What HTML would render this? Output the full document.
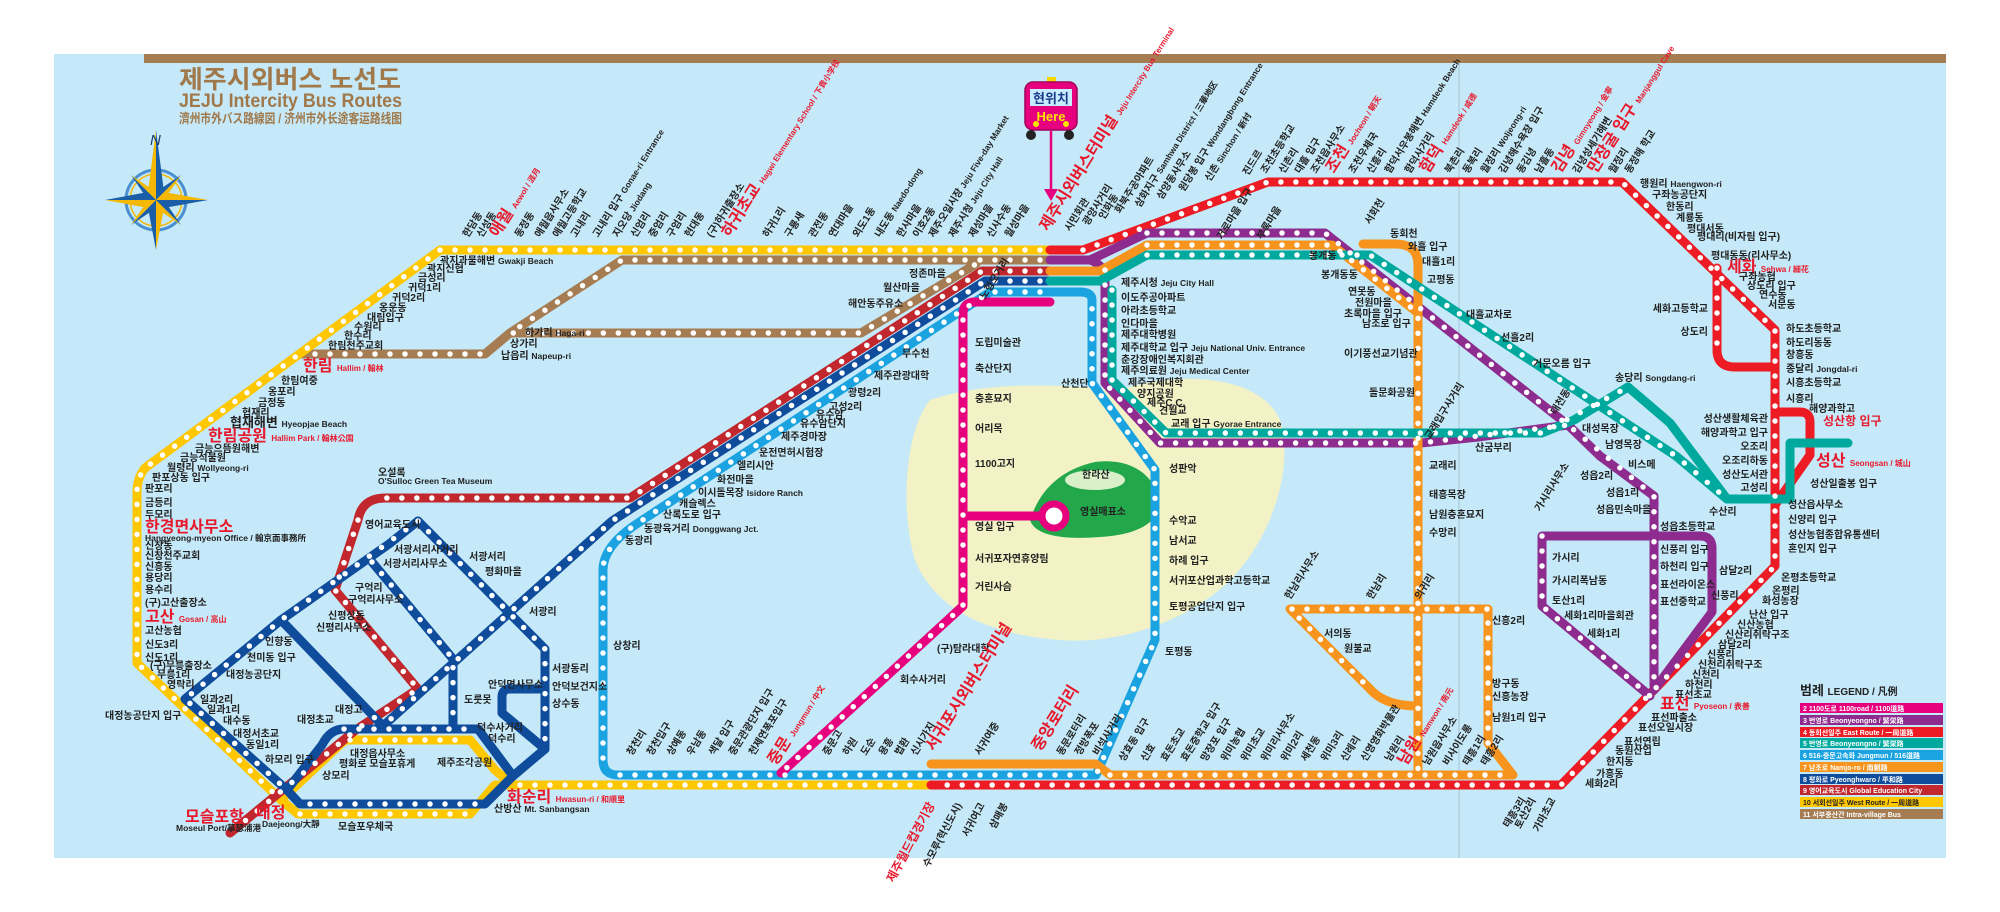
<!DOCTYPE html>
<html><head><meta charset="utf-8">
<style>
html,body{margin:0;padding:0;background:#fff;}
svg{display:block;}
text{font-family:"Liberation Sans","Noto Sans CJK KR",sans-serif;}
.l{font-size:10px;fill:#222;font-weight:bold;}
.s{font-size:8.5px;fill:#222;font-weight:bold;}
.r{font-size:16px;fill:#e8192c;font-weight:bold;}
.rs{font-size:12px;fill:#e8192c;font-weight:bold;}
.ln{fill:none;stroke-width:9;stroke-linejoin:round;stroke-linecap:round;}
.dt{fill:none;stroke:#fff;stroke-width:5.5;stroke-linecap:round;stroke-dasharray:0 15;}
</style></head><body>
<svg width="2000" height="912" viewBox="0 0 2000 912" xmlns="http://www.w3.org/2000/svg">
<rect x="0" y="0" width="2000" height="912" fill="#fff"/>
<rect x="54" y="54" width="1892" height="804" fill="#c5e9f8"/>
<rect x="144" y="54" width="1802" height="9" fill="#a67c52"/>
<line x1="1459" y1="63" x2="1459" y2="858" stroke="#a8c4d4" stroke-width="1"/>

<!-- Title -->
<text x="179" y="88" font-size="25" font-weight="bold" fill="#a0784a" textLength="222" lengthAdjust="spacingAndGlyphs">제주시외버스 노선도</text>
<text x="179" y="107" font-size="19" font-weight="bold" fill="#a0784a" textLength="223" lengthAdjust="spacingAndGlyphs">JEJU Intercity Bus Routes</text>
<text x="179" y="123" font-size="13" font-weight="bold" fill="#a0784a" textLength="223" lengthAdjust="spacingAndGlyphs">濟州市外バス路線図 / 济州市外长途客运路线图</text>

<!-- Compass -->
<g>
<circle cx="156" cy="200" r="30" fill="none" stroke="#4a8fd0" stroke-width="3"/>
<circle cx="156" cy="200" r="26" fill="none" stroke="#f5b800" stroke-width="1.5"/>
<polygon points="156,200 181,175 164,200" fill="#f5b800"/><polygon points="156,200 181,175 156,192" fill="#1a5ea8"/>
<polygon points="156,200 131,175 148,200" fill="#1a5ea8"/><polygon points="156,200 131,175 156,192" fill="#f5b800"/>
<polygon points="156,200 181,225 156,208" fill="#f5b800"/><polygon points="156,200 181,225 164,200" fill="#1a5ea8"/>
<polygon points="156,200 131,225 156,208" fill="#1a5ea8"/><polygon points="156,200 131,225 148,200" fill="#f5b800"/>
<polygon points="156,130 148,192 156,200" fill="#f5b800"/><polygon points="156,130 164,192 156,200" fill="#1a5ea8"/>
<polygon points="156,250 148,208 156,200" fill="#1a5ea8"/><polygon points="156,250 164,208 156,200" fill="#f5b800"/>
<polygon points="208,200 164,192 156,200" fill="#f5b800"/><polygon points="208,200 164,208 156,200" fill="#1a5ea8"/>
<polygon points="105,200 148,192 156,200" fill="#1a5ea8"/><polygon points="105,200 148,208 156,200" fill="#f5b800"/>
<text x="150" y="145" font-size="15" font-style="italic" font-family="Liberation Serif,serif" fill="#1a3a6a">N</text>
</g>

<!-- Island -->
<path d="M930,400 C990,380 1060,385 1120,390 C1180,370 1260,375 1280,420 C1295,470 1270,540 1230,580 C1190,620 1120,645 1060,640 C990,635 935,610 915,560 C900,510 905,430 930,400 Z" fill="#f2f2c6"/>
<path d="M1030,520 C1040,490 1060,470 1095,462 C1125,458 1150,470 1158,495 C1165,520 1140,535 1100,537 C1060,540 1035,535 1030,520 Z" fill="#22a84a"/>
<ellipse cx="1095" cy="480" rx="30" ry="10" fill="#d8efc8"/>
<text x="1082" y="478" class="l">한라산</text>
<text x="1080" y="515" class="l">영실매표소</text>

<!-- Lines -->
<g class="ln">
<path stroke="#a67c52" d="M1050,260 H622 L510,333 L485,354 H300"/>
<path stroke="#a67c52" d="M510,333 H861 L976,264"/>
<path stroke="#ffc700" d="M1050,250 H440 L145,468 Q137,478 137,492 V663 L281,800 L298,814 H470 L495,785 H931"/>
<path stroke="#ffc700" d="M281,800 L345,740 H470 L495,770 L513,785"/>
<path stroke="#c1272d" d="M1050,271 H982 L630,498 H385 Q362,498 358,520 L335,590 L418,689 L357,729 L230,833"/>
<path stroke="#0f4c9c" d="M1050,281 H985 L612,521 L383,726"/>
<path stroke="#0f4c9c" d="M287,790 L300,804 H485 L513,776 L478,729 H344 Q330,729 322,745 L287,790"/>
<path stroke="#0f4c9c" d="M418,521 L545,649 V749 L513,776"/>
<path stroke="#0f4c9c" d="M418,521 L389,544 L281,620 L185,699 L287,790"/>
<path stroke="#0f4c9c" d="M281,620 L383,726"/>
<path stroke="#0f4c9c" d="M372,562 L453,659 V729"/>
<path stroke="#0f4c9c" d="M545,689 H510 Q502,689 502,697 V713 L545,749"/>
<path stroke="#1aa3e0" d="M1050,292 H990 L638,523 Q603,546 603,570 V760 Q603,775 618,775 H1096 L1155,640 V470 L1092,383 V300 Q1092,292 1080,292 H1050"/>
<path stroke="#e6007e" d="M1050,302 H975 Q963,302 963,314 V606 L781,773"/>
<path stroke="#e6007e" d="M963,516 H1042"/>
<path stroke="#ed1c24" d="M1050,250 H1083 L1268,182 H1622 L1775,330 V566 L1561,785 H931"/>
<path stroke="#ed1c24" d="M1717,268 V350 Q1717,367 1735,367 H1775"/>
<path stroke="#ed1c24" d="M1775,412 H1800 Q1810,412 1810,422 V455 L1775,505"/>
<path stroke="#8e2b8e" d="M1050,260 H1090 L1147,233 H1325 L1568,425 L1600,456 L1654,496 V686"/>
<path stroke="#8e2b8e" d="M1090,260 Q1105,265 1105,280 V383 L1160,443 H1421 L1478,437 L1568,425"/>
<path stroke="#8e2b8e" d="M1542,536 H1700 Q1712,536 1712,548 V612 L1654,690 M1542,536 V606 L1650,696"/>
<path stroke="#f7941d" d="M1050,271 H1100 L1147,245 H1332 L1418,313 V775"/>
<path stroke="#f7941d" d="M1363,244 H1395 Q1418,244 1418,265 V313"/>
<path stroke="#f7941d" d="M931,764 H1096 L1110,775 H1513 L1488,743 V609 H1290 L1370,689 Q1385,706 1418,706"/>
<path stroke="#00a99d" d="M1050,281 H1100 L1147,255 H1370 L1676,456 L1727,499 H1790 V443 H1848"/>
<path stroke="#00a99d" d="M1112,290 V380 L1166,433 H1542 L1574,420 L1628,387 L1670,423 L1727,499"/>
</g>
<circle cx="1054" cy="516" r="12" fill="#fff" stroke="#e6007e" stroke-width="7"/>

<!-- station dots -->
<g class="dt">
<path d="M1040,250 H440 L145,468 Q137,478 137,492 V663 L281,800 M300,814 H470 M350,740 H470 M520,785 H925"/>
<path d="M1040,260 H622 L510,333 H861 L976,264 M480,354 H310"/>
<path d="M1040,271 H982 L630,498 H385 M358,520 L335,590 L418,689 L357,729 L240,825"/>
<path d="M1040,281 H985 L612,521 L383,726 M418,521 L281,620 L185,699 L287,790 M418,521 L545,649 V749 M372,562 L453,659 V720 M310,804 H485 M344,729 H478"/>
<path d="M1040,292 H990 L638,523 Q603,546 603,570 V760 M620,775 H1096 L1155,640 V470 L1092,383 V300"/>
<path d="M963,320 V606 L781,773"/>
<path d="M1083,250 L1268,182 H1622 L1775,330 V566 L1561,785 H940 M1717,268 V350"/>
<path d="M1105,270 V383 L1160,443 H1421 L1568,425 M1147,233 H1325 L1568,425 L1654,496 V686 M1542,536 V606 L1650,696"/>
<path d="M1147,245 H1332 L1418,313 V770 M1110,775 H1513 M1488,743 V609 H1290 L1370,689"/>
<path d="M1147,255 H1370 L1676,456 L1727,499 M1112,290 V380 L1166,433 H1542 L1628,387"/>
</g>

<!-- Here sign -->
<rect x="1047" y="77" width="9" height="6" fill="#f5d800"/>
<rect x="1025" y="82" width="52" height="48" rx="8" fill="#e6007e" stroke="#a0005a" stroke-width="1.5"/>
<rect x="1030" y="89" width="42" height="17" fill="#c8ecff"/>
<text x="1051" y="103" font-size="13" font-weight="bold" text-anchor="middle" fill="#1a3a8a">현위치</text>
<text x="1051" y="121" font-size="13" font-weight="bold" text-anchor="middle" fill="#ffe600">Here</text>
<circle cx="1036" cy="124" r="3" fill="#ffe600"/><circle cx="1066" cy="124" r="3" fill="#ffe600"/>
<circle cx="1031" cy="135" r="5" fill="#222"/><circle cx="1069" cy="135" r="5" fill="#222"/>
<line x1="1051" y1="131" x2="1051" y2="190" stroke="#e6007e" stroke-width="2.5"/>
<polygon points="1044,189 1058,189 1051,201" fill="#e6007e"/>

<!-- Rotated labels top (yellow) -->
<g class="l">
<text transform="translate(468,238) rotate(-58)">한담동</text>
<text transform="translate(482,238) rotate(-58)">신성동</text>
<text transform="translate(498,238) rotate(-58)" class="r">애월 <tspan font-size="8">Aewol / 涯月</tspan></text>
<text transform="translate(520,238) rotate(-58)">동정동</text>
<text transform="translate(540,238) rotate(-58)">애월읍사무소</text>
<text transform="translate(558,238) rotate(-58)">애월고등학교</text>
<text transform="translate(576,238) rotate(-58)">고내리</text>
<text transform="translate(598,238) rotate(-58)">고내리 입구 <tspan class="s">Gonae-ri Entrance</tspan></text>
<text transform="translate(618,238) rotate(-58)">지오당 <tspan class="s">Jiodang</tspan></text>
<text transform="translate(636,238) rotate(-58)">신엄리</text>
<text transform="translate(654,238) rotate(-58)">중엄리</text>
<text transform="translate(672,238) rotate(-58)">구엄리</text>
<text transform="translate(690,238) rotate(-58)">현대동</text>
<text transform="translate(712,238) rotate(-58)">(구)하귀출장소</text>
<text transform="translate(730,238) rotate(-58)" class="r">하귀초교 <tspan font-size="8">Hagwi Elementary School / 下貴小学校</tspan></text>
<text transform="translate(768,238) rotate(-58)">하귀1리</text>
<text transform="translate(790,238) rotate(-58)">구룡새</text>
<text transform="translate(814,238) rotate(-58)">관전동</text>
<text transform="translate(834,238) rotate(-58)">연대마을</text>
<text transform="translate(858,238) rotate(-58)">외도1동</text>
<text transform="translate(880,238) rotate(-58)">내도동 <tspan class="s">Naedo-dong</tspan></text>
<text transform="translate(902,238) rotate(-58)">한사마을</text>
<text transform="translate(918,238) rotate(-58)">이호2동</text>
<text transform="translate(934,238) rotate(-58)">제주오일시장 <tspan class="s">Jeju Five-day Market</tspan></text>
<text transform="translate(954,238) rotate(-58)">제주시청 <tspan class="s">Jeju City Hall</tspan></text>
<text transform="translate(974,238) rotate(-58)">제성마을</text>
<text transform="translate(992,238) rotate(-58)">신사수동</text>
<text transform="translate(1010,238) rotate(-58)">월성마을</text>
<text transform="translate(1048,232) rotate(-58)" class="r">제주시외버스터미널 <tspan font-size="8">Jeju Intercity Bus Terminal</tspan></text>
<text transform="translate(1070,232) rotate(-58)">시민회관</text>
<text transform="translate(1088,226) rotate(-58)">광양사거리</text>
<text transform="translate(1104,220) rotate(-58)">인화동</text>
<text transform="translate(1120,214) rotate(-58)">화북주공아파트</text>
<text transform="translate(1140,208) rotate(-58)">삼화지구 <tspan class="s">Samhwa District / 三華地区</tspan></text>
<text transform="translate(1162,200) rotate(-58)">삼양동사무소</text>
<text transform="translate(1184,192) rotate(-58)">원당봉 입구 <tspan class="s">Wondangbong Entrance</tspan></text>
<text transform="translate(1210,182) rotate(-58)">신촌 <tspan class="s">Sinchon / 新村</tspan></text>
<text transform="translate(1248,176) rotate(-58)">진드르</text>
<text transform="translate(1266,174) rotate(-58)">조천초등학교</text>
<text transform="translate(1284,174) rotate(-58)">신촌리</text>
<text transform="translate(1300,174) rotate(-58)">대흘 입구</text>
<text transform="translate(1316,174) rotate(-58)">조천읍사무소</text>
<text transform="translate(1334,174) rotate(-58)" class="r">조천 <tspan font-size="8">Jocheon / 朝天</tspan></text>
<text transform="translate(1354,174) rotate(-58)">조천우체국</text>
<text transform="translate(1372,174) rotate(-58)">신흥리</text>
<text transform="translate(1390,174) rotate(-58)">함덕서우봉해변 <tspan class="s">Hamdeok Beach</tspan></text>
<text transform="translate(1410,174) rotate(-58)">함덕사거리</text>
<text transform="translate(1428,174) rotate(-58)" class="r">함덕 <tspan font-size="8">Hamdeok / 咸德</tspan></text>
<text transform="translate(1450,174) rotate(-58)">북촌리</text>
<text transform="translate(1468,174) rotate(-58)">동복리</text>
<text transform="translate(1486,174) rotate(-58)">월정리 <tspan class="s">Woljeong-ri</tspan></text>
<text transform="translate(1504,174) rotate(-58)">김녕해수욕장 입구</text>
<text transform="translate(1522,174) rotate(-58)">동김녕</text>
<text transform="translate(1540,174) rotate(-58)">남흘동</text>
<text transform="translate(1560,174) rotate(-58)" class="r">김녕 <tspan font-size="8">Gimnyeong / 金寧</tspan></text>
<text transform="translate(1578,174) rotate(-58)">김녕성세기해변</text>
<text transform="translate(1596,174) rotate(-58)" class="r">만장굴 입구 <tspan font-size="8">Manjanggul Cave</tspan></text>
<text transform="translate(1614,174) rotate(-58)">월정리</text>
<text transform="translate(1630,174) rotate(-58)">동정해 학교</text>
<text transform="translate(1222,240) rotate(-58)">거로마을 입구</text>
<text transform="translate(1262,240) rotate(-58)">부록마을</text>
<text transform="translate(1370,225) rotate(-58)">서회천</text>
<text transform="translate(1556,415) rotate(-58)">대천동</text>
<text transform="translate(1430,440) rotate(-58)">교래입구사거리</text>
<text transform="translate(1540,512) rotate(-58)">가시리사무소</text>
<text transform="translate(1290,600) rotate(-58)">한남리사무소</text>
<text transform="translate(1372,600) rotate(-58)">한남리</text>
<text transform="translate(1420,600) rotate(-58)">의귀리</text>
<text transform="translate(985,300) rotate(-58)">노형오거리</text>
</g>

<!-- horizontal labels -->
<g class="l">
<text x="440" y="264">곽지과물해변 <tspan class="s">Gwakji Beach</tspan></text>
<text x="427" y="272">곽지신협</text>
<text x="418" y="281">금성리</text>
<text x="408" y="291">귀덕1리</text>
<text x="392" y="301">귀덕2리</text>
<text x="379" y="311">옹운동</text>
<text x="367" y="321">대림입구</text>
<text x="354" y="330">수원리</text>
<text x="344" y="339">한수리</text>
<text x="328" y="349">한림천주교회</text>
<text x="303" y="371" class="r">한림 <tspan font-size="8">Hallim / 翰林</tspan></text>
<text x="281" y="384">한림여중</text>
<text x="268" y="395">옹포리</text>
<text x="258" y="406">금정동</text>
<text x="242" y="416">협재리</text>
<text x="230" y="427" font-size="13">협재해변 <tspan class="s">Hyeopjae Beach</tspan></text>
<text x="208" y="441" class="r" font-size="14">한림공원 <tspan font-size="8">Hallim Park / 翰林公園</tspan></text>
<text x="195" y="452">금능으뜸원해변</text>
<text x="180" y="461">금능석물원</text>
<text x="167" y="471">월령리 <tspan class="s">Wollyeong-ri</tspan></text>
<text x="152" y="481">판포상동 입구</text>
<text x="145" y="492">판포리</text>
<text x="145" y="506">금등리</text>
<text x="145" y="518">두모리</text>
<text x="145" y="532" class="r" font-size="15">한경면사무소</text>
<text x="145" y="541" class="s" fill="#e8192c">Hangyeong-myeon Office / 翰京面事務所</text>
<text x="145" y="549">신창동</text>
<text x="145" y="559">신창천주교회</text>
<text x="145" y="570">신흥동</text>
<text x="145" y="581">용당리</text>
<text x="145" y="593">용수리</text>
<text x="145" y="606">(구)고산출장소</text>
<text x="145" y="622" class="r">고산 <tspan font-size="8">Gosan / 高山</tspan></text>
<text x="145" y="634">고산농협</text>
<text x="145" y="648">신도3리</text>
<text x="145" y="661">신도1리</text>
<text x="150" y="669">(구)무릉출장소</text>
<text x="157" y="678">무릉1리</text>
<text x="167" y="688">영락리</text>
<text x="105" y="719">대정농공단지 입구</text>
<text x="200" y="703">일과2리</text>
<text x="207" y="713">일과1리</text>
<text x="223" y="724">대수동</text>
<text x="233" y="737">대정서초교</text>
<text x="246" y="748">동일1리</text>
<text x="265" y="763">하모리 입구</text>
<text x="265" y="645">인향동</text>
<text x="247" y="661">천미동 입구</text>
<text x="226" y="678">대정농공단지</text>
<text x="355" y="591">구억리</text>
<text x="348" y="603">구억리사무소</text>
<text x="328" y="619">신평상동</text>
<text x="316" y="631">신평리사무소</text>
<text x="394" y="553">서광서리사거리</text>
<text x="383" y="567">서광서리사무소</text>
<text x="469" y="560">서광서리</text>
<text x="485" y="575">평화마을</text>
<text x="529" y="615">서광리</text>
<text x="552" y="672">서광동리</text>
<text x="552" y="690">안덕보건지소</text>
<text x="552" y="707">상수동</text>
<text x="488" y="688">안덕면사무소</text>
<text x="464" y="703">도룻못</text>
<text x="477" y="731">덕수사거리</text>
<text x="488" y="742">덕수리</text>
<text x="297" y="723">대정초교</text>
<text x="335" y="713">대정고</text>
<text x="350" y="757">대정읍사무소</text>
<text x="339" y="767">평화로 모슬포휴게</text>
<text x="437" y="766">제주조각공원</text>
<text x="322" y="779">상모리</text>
<text x="338" y="830">모슬포우체국</text>
<text x="378" y="476">오설록</text>
<text x="378" y="484" class="s">O'Sulloc Green Tea Museum</text>
<text x="365" y="528">영어교육도시</text>
<text x="256" y="818" class="r">대정</text>
<text x="262" y="827" class="s" fill="#e8192c">Daejeong/大靜</text>
<text x="185" y="822" class="r" font-size="14">모슬포항</text>
<text x="176" y="831" class="s" fill="#e8192c">Moseul Port/摹瑟浦港</text>
<text x="507" y="802" class="r">화순리 <tspan font-size="8">Hwasun-ri / 和順里</tspan></text>
<text x="494" y="812">산방산 <tspan class="s">Mt. Sanbangsan</tspan></text>
<text x="644" y="532">동광육거리 <tspan class="s">Donggwang Jct.</tspan></text>
<text x="663" y="518">산록도로 입구</text>
<text x="625" y="544">동광리</text>
<text x="613" y="649">상창리</text>
<text x="698" y="496">이시돌목장 <tspan class="s">Isidore Ranch</tspan></text>
<text x="679" y="507">캐슬렉스</text>
<text x="717" y="483">화전마을</text>
<text x="737" y="469">엘리시안</text>
<text x="900" y="683">회수사거리</text>
<text x="937" y="652">(구)탐라대학</text>
<text x="909" y="277">정존마을</text>
<text x="883" y="291">월산마을</text>
<text x="848" y="307">해안동주유소</text>
<text x="525" y="336">하가리 <tspan class="s">Haga-ri</tspan></text>
<text x="510" y="347">상가리</text>
<text x="501" y="359">납읍리 <tspan class="s">Napeup-ri</tspan></text>
<text x="902" y="357">무수천</text>
<text x="874" y="379">제주관광대학</text>
<text x="848" y="396">광령2리</text>
<text x="829" y="410">고성2리</text>
<text x="816" y="418">유수암</text>
<text x="800" y="427">유수암단지</text>
<text x="781" y="440">제주경마장</text>
<text x="759" y="456">운전면허시험장</text>
<text x="975" y="346">도립미술관</text>
<text x="975" y="372">축산단지</text>
<text x="975" y="402">충혼묘지</text>
<text x="975" y="432">어리목</text>
<text x="975" y="467">1100고지</text>
<text x="975" y="530">영실 입구</text>
<text x="975" y="562">서귀포자연휴양림</text>
<text x="975" y="590">거린사슴</text>
<text x="1121" y="286">제주시청 <tspan class="s">Jeju City Hall</tspan></text>
<text x="1121" y="301">이도주공아파트</text>
<text x="1121" y="314">아라초등학교</text>
<text x="1121" y="327">인다마을</text>
<text x="1121" y="338">제주대학병원</text>
<text x="1121" y="351">제주대학교 입구 <tspan class="s">Jeju National Univ. Entrance</tspan></text>
<text x="1121" y="363">춘강장애인복지회관</text>
<text x="1121" y="374">제주의료원 <tspan class="s">Jeju Medical Center</tspan></text>
<text x="1128" y="386">제주국제대학</text>
<text x="1137" y="397">양지공원</text>
<text x="1147" y="406">제주C.C.</text>
<text x="1159" y="414">견월교</text>
<text x="1171" y="427">교래 입구 <tspan class="s">Gyorae Entrance</tspan></text>
<text x="1061" y="387">산천단</text>
<text x="1309" y="259">봉개동</text>
<text x="1321" y="278">봉개동동</text>
<text x="1348" y="295">연못동</text>
<text x="1355" y="306">전원마을</text>
<text x="1344" y="317">초록마을 입구</text>
<text x="1362" y="327">남조로 입구</text>
<text x="1344" y="357">이기풍선교기념관</text>
<text x="1369" y="396">돌문화공원</text>
<text x="1390" y="237">동회천</text>
<text x="1408" y="250">와흘 입구</text>
<text x="1422" y="265">대흘1리</text>
<text x="1427" y="283">고평동</text>
<text x="1466" y="318">대흘교차로</text>
<text x="1501" y="341">선흘2리</text>
<text x="1533" y="367">거문오름 입구</text>
<text x="1615" y="381">송당리 <tspan class="s">Songdang-ri</tspan></text>
<text x="1582" y="432">대성목장</text>
<text x="1605" y="448">남영목장</text>
<text x="1475" y="451">산굼부리</text>
<text x="1640" y="187">행원리 <tspan class="s">Haengwon-ri</tspan></text>
<text x="1652" y="198">구좌농공단지</text>
<text x="1666" y="210">한동리</text>
<text x="1676" y="221">계룡동</text>
<text x="1687" y="232">평대서동</text>
<text x="1697" y="240">평대리(비자림 입구)</text>
<text x="1711" y="259">평대동동(리사무소)</text>
<text x="1727" y="272" class="r">세화 <tspan font-size="8">Sehwa / 細花</tspan></text>
<text x="1739" y="280">구좌농협</text>
<text x="1747" y="289">상도리 입구</text>
<text x="1759" y="298">연수동</text>
<text x="1768" y="308">서문동</text>
<text x="1708" y="312" text-anchor="end">세화고등학교</text>
<text x="1708" y="335" text-anchor="end">상도리</text>
<text x="1786" y="332">하도초등학교</text>
<text x="1786" y="346">하도리동동</text>
<text x="1786" y="358">창흥동</text>
<text x="1786" y="372">종달리 <tspan class="s">Jongdal-ri</tspan></text>
<text x="1786" y="386">시흥초등학교</text>
<text x="1786" y="402">시흥리</text>
<text x="1809" y="412">해양과학고</text>
<text x="1768" y="422" text-anchor="end">성산생활체육관</text>
<text x="1768" y="436" text-anchor="end">해양과학고 입구</text>
<text x="1768" y="450" text-anchor="end">오조리</text>
<text x="1823" y="425" class="rs">성산항 입구</text>
<text x="1169" y="472">성판악</text>
<text x="1169" y="524">수악교</text>
<text x="1169" y="544">남서교</text>
<text x="1169" y="564">하례 입구</text>
<text x="1169" y="584">서귀포산업과학고등학교</text>
<text x="1169" y="610">토평공업단지 입구</text>
<text x="1165" y="655">토평동</text>
<text x="1429" y="469">교래리</text>
<text x="1429" y="498">태흥목장</text>
<text x="1429" y="518">남원충혼묘지</text>
<text x="1429" y="536">수망리</text>
<text x="1492" y="624">신흥2리</text>
<text x="1492" y="687">방구동</text>
<text x="1492" y="700">신흥농장</text>
<text x="1492" y="721">남원1리 입구</text>
<text x="1324" y="637">서의동</text>
<text x="1344" y="652">원불교</text>
<text x="1768" y="464" text-anchor="end">오조리하동</text>
<text x="1768" y="478" text-anchor="end">성산도서관</text>
<text x="1768" y="491" text-anchor="end">고성리</text>
<text x="1709" y="515">수산리</text>
<text x="1816" y="466" class="r">성산 <tspan font-size="8">Seongsan / 城山</tspan></text>
<text x="1810" y="487">성산일출봉 입구</text>
<text x="1788" y="508">성산읍사무소</text>
<text x="1788" y="523">신양리 입구</text>
<text x="1788" y="538">성산농협종합유통센터</text>
<text x="1788" y="552">혼인지 입구</text>
<text x="1781" y="581">온평초등학교</text>
<text x="1772" y="594">온평리</text>
<text x="1762" y="604">화성농장</text>
<text x="1749" y="618">난산 입구</text>
<text x="1737" y="628">신산농협</text>
<text x="1725" y="638">신산리취락구조</text>
<text x="1718" y="648">삼달2리</text>
<text x="1707" y="658">신풍리</text>
<text x="1698" y="668">신천리취락구조</text>
<text x="1692" y="678">신천리</text>
<text x="1685" y="688">하천리</text>
<text x="1675" y="698">표선초교</text>
<text x="1660" y="709" class="r">표선 <tspan font-size="8">Pyoseon / 表善</tspan></text>
<text x="1651" y="721">표선파출소</text>
<text x="1638" y="731">표선오일시장</text>
<text x="1624" y="745">표선연립</text>
<text x="1615" y="754">동원산업</text>
<text x="1606" y="765">한지동</text>
<text x="1596" y="777">가흥동</text>
<text x="1585" y="787">세화2리</text>
<text x="1580" y="479">성읍2리</text>
<text x="1606" y="496">성읍1리</text>
<text x="1596" y="513">성읍민속마을</text>
<text x="1660" y="530">성읍초등학교</text>
<text x="1660" y="553">신풍리 입구</text>
<text x="1660" y="570">하천리 입구</text>
<text x="1660" y="588">표선라이온스</text>
<text x="1660" y="605">표선중학교</text>
<text x="1719" y="574">삼달2리</text>
<text x="1711" y="599">신풍리</text>
<text x="1552" y="561">가시리</text>
<text x="1552" y="584">가시리폭남동</text>
<text x="1552" y="604">토산1리</text>
<text x="1564" y="619">세화1리마을회관</text>
<text x="1587" y="637">세화1리</text>
<text x="1628" y="468">비스메</text>
</g>

<!-- bottom rotated labels -->
<g class="l">
<text transform="translate(632,756) rotate(-58)">창천리</text>
<text transform="translate(652,756) rotate(-58)">창천입구</text>
<text transform="translate(672,756) rotate(-58)">상예동</text>
<text transform="translate(692,756) rotate(-58)">우남동</text>
<text transform="translate(714,756) rotate(-58)">색달 입구</text>
<text transform="translate(734,756) rotate(-58)">중문관광단지 입구</text>
<text transform="translate(754,756) rotate(-58)">천제연폭포입구</text>
<text transform="translate(776,766) rotate(-58)" class="r">중문 <tspan font-size="8">Jungmun / 中文</tspan></text>
<text transform="translate(828,756) rotate(-58)">중문고</text>
<text transform="translate(848,756) rotate(-58)">하원</text>
<text transform="translate(866,756) rotate(-58)">도순</text>
<text transform="translate(884,756) rotate(-58)">용흥</text>
<text transform="translate(900,756) rotate(-58)">법환</text>
<text transform="translate(916,756) rotate(-58)">신시가지</text>
<text transform="translate(934,752) rotate(-58)" class="r" font-size="14">서귀포시외버스터미널</text>
<text transform="translate(980,756) rotate(-58)">서귀여중</text>
<text transform="translate(1040,752) rotate(-58)" class="r" font-size="14">중앙로터리</text>
<text transform="translate(1062,756) rotate(-58)">동문로터리</text>
<text transform="translate(1080,756) rotate(-58)">정방폭포</text>
<text transform="translate(1098,756) rotate(-58)">비석사거리</text>
<text transform="translate(1124,762) rotate(-58)">상효동 입구</text>
<text transform="translate(1146,762) rotate(-58)">신효</text>
<text transform="translate(1166,762) rotate(-58)">효돈초교</text>
<text transform="translate(1186,762) rotate(-58)">효돈중학교 입구</text>
<text transform="translate(1206,762) rotate(-58)">망장포 입구</text>
<text transform="translate(1226,762) rotate(-58)">위미농협</text>
<text transform="translate(1246,762) rotate(-58)">위미초교</text>
<text transform="translate(1266,762) rotate(-58)">위미리사무소</text>
<text transform="translate(1286,762) rotate(-58)">위미2리</text>
<text transform="translate(1306,762) rotate(-58)">세천동</text>
<text transform="translate(1326,762) rotate(-58)">위미3리</text>
<text transform="translate(1346,762) rotate(-58)">신례리</text>
<text transform="translate(1366,762) rotate(-58)">신영영화박물관</text>
<text transform="translate(1390,762) rotate(-58)">남원리</text>
<text transform="translate(1406,766) rotate(-58)" class="r">남원 <tspan font-size="8">Namwon / 南元</tspan></text>
<text transform="translate(1428,766) rotate(-58)">남원읍사무소</text>
<text transform="translate(1448,766) rotate(-58)">비사이도롱</text>
<text transform="translate(1468,766) rotate(-58)">태흥1리</text>
<text transform="translate(1486,766) rotate(-58)">태흥2리</text>
<text transform="translate(1526,800) rotate(-58)" text-anchor="end" transform-origin="0 0">태흥3리</text>
<text transform="translate(935,805) rotate(-62)" text-anchor="end" class="rs">제주월드컵경기장</text>
<text transform="translate(962,805) rotate(-62)" text-anchor="end">수모루(혁신도시)</text>
<text transform="translate(985,805) rotate(-62)" text-anchor="end">서귀여고</text>
<text transform="translate(1008,805) rotate(-62)" text-anchor="end">삼매봉</text>
<text transform="translate(1536,800) rotate(-62)" text-anchor="end">토산2리</text>
<text transform="translate(1556,800) rotate(-62)" text-anchor="end">가마초교</text>
</g>

<!-- Legend -->
<text x="1800" y="695" font-size="13" font-weight="bold" fill="#222">범례 <tspan font-size="10">LEGEND / 凡例</tspan></text>
<g font-size="7" font-weight="bold" fill="#fff">
<rect x="1800" y="703" width="143" height="10" fill="#e6007e"/><text x="1803" y="711">2  1100도로 1100road / 1100道路</text>
<rect x="1800" y="715" width="143" height="10" fill="#8e2b8e"/><text x="1803" y="723">3  번영로 Beonyeongno / 繁栄路</text>
<rect x="1800" y="727" width="143" height="10" fill="#ed1c24"/><text x="1803" y="735">4  동회선일주 East Route / 一周道路</text>
<rect x="1800" y="738" width="143" height="10" fill="#00a99d"/><text x="1803" y="746">5  번영로 Beonyeongno / 繁栄路</text>
<rect x="1800" y="750" width="143" height="10" fill="#1aa3e0"/><text x="1803" y="758">6  516-중문고속화 Jungmun / 516道路</text>
<rect x="1800" y="762" width="143" height="10" fill="#f7941d"/><text x="1803" y="770">7  남조로 Namjo-ro / 南朝路</text>
<rect x="1800" y="774" width="143" height="10" fill="#0f4c9c"/><text x="1803" y="782">8  평화로 Pyeonghwaro / 平和路</text>
<rect x="1800" y="785" width="143" height="10" fill="#c1272d"/><text x="1803" y="793">9  영어교육도시 Global Education City</text>
<rect x="1800" y="797" width="143" height="10" fill="#ffc700"/><text x="1803" y="805" fill="#222">10 서회선일주 West Route / 一周道路</text>
<rect x="1800" y="809" width="143" height="10" fill="#a67c52"/><text x="1803" y="817">11 서부중산간 Intra-village Bus</text>
</g>
</svg>
</body></html>
